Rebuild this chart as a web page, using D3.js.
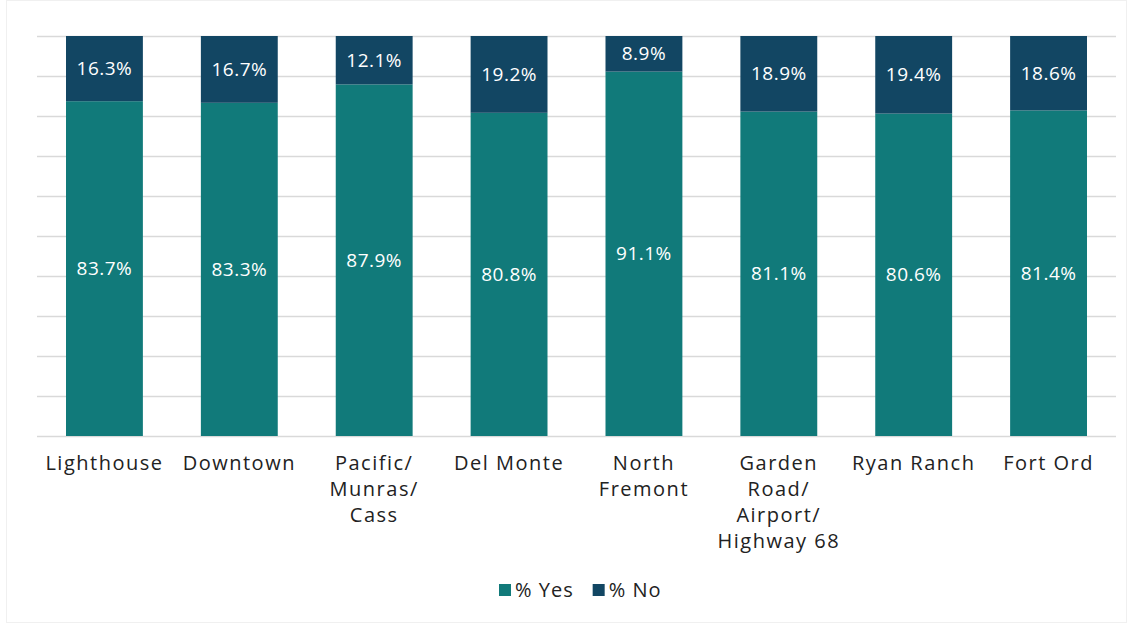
<!DOCTYPE html>
<html>
<head>
<meta charset="utf-8">
<script src="https://cdn.jsdelivr.net/npm/d3@7"></script>
<style>
  body { margin: 0; background: #fff; }
  svg { font-family: "Open Sans", sans-serif; }
</style>
</head>
<body>
<svg id="chart" width="1133" height="624"></svg>
<script>
// data
const categories = ["Lighthouse", "Downtown", "Pacific/\nMunras/\nCass", "Del Monte", "North\nFremont",
  "Garden\nRoad/\nAirport/\nHighway 68", "Ryan Ranch", "Fort Ord"];
const yesValues = [83.7, 83.3, 87.9, 80.8, 91.1, 81.1, 80.6, 81.4];
const noValues = [16.3, 16.7, 12.1, 19.2, 8.9, 18.9, 19.4, 18.6];
const seriesNames = ["% Yes", "% No"];
const yTicks = [0, 10, 20, 30, 40, 50, 60, 70, 80, 90, 100];

const colors = { "% Yes": "#117a7a", "% No": "#124663" };

const svg = d3.select("#chart");
const margin = { top: 36, right: 17, bottom: 188, left: 37 };
const width = 1133 - margin.left - margin.right;
const height = 624 - margin.top - margin.bottom;

// faint frame
svg.append("rect")
  .attr("x", 6.5).attr("y", 0.5).attr("width", 1120).attr("height", 622)
  .attr("fill", "none").attr("stroke", "#f0f0f0");

const g = svg.append("g").attr("transform", `translate(${margin.left},${margin.top})`);

const x = d3.scaleBand().domain(d3.range(categories.length)).range([0, width]).paddingInner(0.43).paddingOuter(0.215);
const y = d3.scaleLinear().domain([0, 100]).range([height, 0]);

// gridlines
g.append("g")
  .call(d3.axisLeft(y).tickValues(yTicks).tickSize(-width).tickFormat(""))
  .call(a => a.select(".domain").remove())
  .call(a => a.selectAll(".tick line").attr("stroke", "#d9d9d9").attr("stroke-width", 1.5));

const rows = categories.map((c, i) => ({ i, "% Yes": yesValues[i], "% No": noValues[i] }));
const stacked = d3.stack().keys(seriesNames)(rows);

const layers = g.selectAll(".layer").data(stacked).join("g")
  .attr("fill", d => colors[d.key]);

layers.selectAll("rect").data(d => d).join("rect")
  .attr("x", d => x(d.data.i))
  .attr("y", d => y(d[1]))
  .attr("width", x.bandwidth())
  .attr("height", d => y(d[0]) - y(d[1]));

// value labels
layers.selectAll("text").data(d => d).join("text")
  .attr("x", d => x(d.data.i) + x.bandwidth() / 2)
  .attr("y", d => (y(d[0]) + y(d[1])) / 2)
  .attr("dy", "0.35em")
  .attr("text-anchor", "middle")
  .attr("fill", "#fff")
  .attr("font-size", 19)
  .attr("letter-spacing", 0.5)
  .text(d => (d[1] - d[0]).toFixed(1) + "%");

// category labels
const xAxis = g.append("g").attr("transform", `translate(0,${height})`);
categories.forEach((c, i) => {
  const t = xAxis.append("text")
    .attr("x", x(i) + x.bandwidth() / 2)
    .attr("y", 34)
    .attr("text-anchor", "middle")
    .attr("fill", "#222")
    .attr("font-size", 20)
    .attr("letter-spacing", 1.5);
  c.split("\n").forEach((line, j) => {
    t.append("tspan").attr("x", x(i) + x.bandwidth() / 2).attr("dy", j === 0 ? 0 : 26).text(line);
  });
});

// legend
const legend = svg.append("g").attr("transform", "translate(499,590)");
let lx = 0;
seriesNames.forEach(name => {
  const item = legend.append("g").attr("transform", `translate(${lx},0)`);
  item.append("rect").attr("x", 0).attr("y", -6).attr("width", 12).attr("height", 12).attr("fill", colors[name]);
  const txt = item.append("text").attr("x", 16).attr("dy", "0.35em").attr("font-size", 20)
    .attr("letter-spacing", 1).attr("fill", "#222").text(name);
  lx += 16 + txt.node().getComputedTextLength() + 19;
});
</script>
</body>
</html>
